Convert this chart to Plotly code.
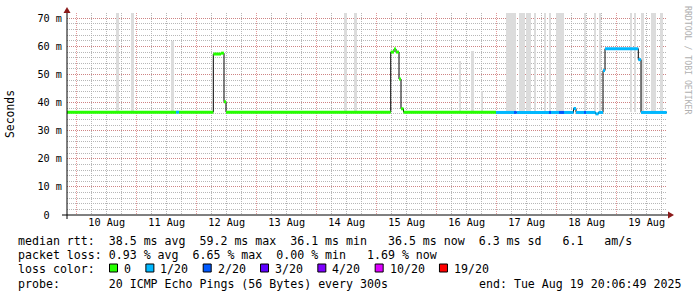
import plotly.graph_objects as go
import pandas as pd

# ---------------- data ----------------
# median RTT as step segments: boundaries, value (ms) and loss level per segment
seg_time = [
    "2025-08-09 20:07", "2025-08-11 15:43", "2025-08-11 16:55", "2025-08-12 06:38",
    "2025-08-12 09:43", "2025-08-12 10:55", "2025-08-12 11:43", "2025-08-15 05:36",
    "2025-08-15 06:55", "2025-08-15 07:43", "2025-08-15 08:55", "2025-08-15 09:43",
    "2025-08-15 10:43", "2025-08-16 23:43", "2025-08-17 06:55", "2025-08-17 08:00",
    "2025-08-17 20:55", "2025-08-17 21:43", "2025-08-18 00:55", "2025-08-18 02:55",
    "2025-08-18 06:43", "2025-08-18 07:43", "2025-08-18 10:55", "2025-08-18 11:43",
    "2025-08-18 15:31", "2025-08-18 16:43", "2025-08-18 18:31", "2025-08-18 19:19",
    "2025-08-19 08:38", "2025-08-19 09:43", "2025-08-19 20:00",
]
seg_median_ms = [
    36.6, 36.6, 36.6, 57.3, 57.6, 40.3, 36.6, 58.0, 59.1, 58.0,
    48.4, 37.8, 36.6, 36.5, 36.5, 36.5, 36.5, 36.5, 36.5, 36.5,
    37.9, 36.5, 36.5, 36.5, 36.0, 36.5, 51.4, 59.2, 55.3, 36.5,
]
seg_loss = [
    "0", "1/20", "0", "0", "0", "0", "0", "0", "0", "0",
    "0", "0", "0", "1/20", "2/20", "1/20", "2/20", "1/20", "2/20", "1/20",
    "1/20", "1/20", "2/20", "1/20", "1/20", "1/20", "1/20", "1/20", "1/20", "1/20",
]

# smoke (spread of the 20 pings): start, end, low and high (ms)
smoke_start = [
    "2025-08-10 15:43", "2025-08-10 21:43", "2025-08-11 13:43", "2025-08-14 10:55",
    "2025-08-14 14:55", "2025-08-16 08:55", "2025-08-16 13:43", "2025-08-16 17:43",
    "2025-08-17 03:43", "2025-08-17 08:55", "2025-08-17 11:43", "2025-08-17 14:55",
    "2025-08-17 18:55", "2025-08-17 20:55", "2025-08-17 23:43", "2025-08-18 10:55",
    "2025-08-18 14:55", "2025-08-18 16:55", "2025-08-19 05:19", "2025-08-19 06:55",
    "2025-08-19 09:43", "2025-08-19 13:43", "2025-08-19 17:19",
]
smoke_end = [
    "2025-08-10 16:55", "2025-08-10 22:55", "2025-08-11 14:55", "2025-08-14 12:07",
    "2025-08-14 16:07", "2025-08-16 09:43", "2025-08-16 14:55", "2025-08-16 18:31",
    "2025-08-17 07:43", "2025-08-17 11:19", "2025-08-17 13:43", "2025-08-17 15:43",
    "2025-08-17 19:43", "2025-08-17 21:43", "2025-08-18 02:55", "2025-08-18 11:43",
    "2025-08-18 15:43", "2025-08-18 17:43", "2025-08-19 06:07", "2025-08-19 07:43",
    "2025-08-19 10:55", "2025-08-19 15:43", "2025-08-19 18:31",
]
smoke_low_ms = [36.8] * 23
smoke_high_ms = [
    73, 73, 62.0, 73, 73, 54.9, 58.5, 44.2, 73, 73, 73, 73,
    73, 73, 73, 73, 73, 73, 73, 73, 73, 73, 73,
]

loss_levels = ["0", "1/20", "2/20", "3/20", "4/20", "10/20", "19/20"]
loss_colors = ["#26ff00", "#00b8ff", "#0059ff", "#5e00ff", "#7e00ff", "#dd00ff", "#ff0000"]

y_tick_vals = [0, 10, 20, 30, 40, 50, 60, 70]
y_tick_text = ["0\u00a0\u00a0", "10 m", "20 m", "30 m", "40 m", "50 m", "60 m", "70 m"]

stat_rtt = "median rtt:  38.5 ms avg  59.2 ms max  36.1 ms min   36.5 ms now  6.3 ms sd   6.1   am/s"
stat_loss = "packet loss: 0.93 % avg  6.65 % max  0.00 % min   1.69 % now"
probe_text = "probe:       20 ICMP Echo Pings (56 Bytes) every 300s"
end_text = "end: Tue Aug 19 20:06:49 2025"
x_start = "2025-08-09 20:06:49"
x_end = "2025-08-19 20:06:49"

# ---------------- geometry helpers ----------------
W, H = 697, 297
L, R, T, B = 67, 30, 13, 82
PW, PH = W - L - R, H - T - B
MONO = "DejaVu Sans Mono"


def px(xp):
    return (xp - L) / PW


def py(yp):
    return (H - B - yp) / PH


def nb(s):
    return s.replace(" ", "\u00a0")


fig = go.Figure()

# smoke bars
s0 = pd.to_datetime(pd.Series(smoke_start))
s1 = pd.to_datetime(pd.Series(smoke_end))
centers = s0 + (s1 - s0) / 2
widths = (s1 - s0).dt.total_seconds() * 1000
fig.add_trace(go.Bar(
    x=centers, y=[h - l for h, l in zip(smoke_high_ms, smoke_low_ms)], base=smoke_low_ms,
    width=list(widths), marker=dict(color="#dcdcdc", line=dict(width=0)),
    hoverinfo="skip", showlegend=False,
))

# black median step line
bx, by = [], []
for i, v in enumerate(seg_median_ms):
    bx += [seg_time[i], seg_time[i + 1]]
    by += [v, v]
fig.add_trace(go.Scatter(x=bx, y=by, mode="lines", line=dict(color="#000000", width=1),
                         hoverinfo="skip", showlegend=False))

# coloured median segments by loss level
for lvl, col in zip(loss_levels, loss_colors):
    cx, cy = [], []
    for i, v in enumerate(seg_median_ms):
        if seg_loss[i] == lvl:
            cx += [seg_time[i], seg_time[i + 1], None]
            cy += [v, v, None]
    if cx:
        fig.add_trace(go.Scatter(x=cx, y=cy, mode="lines", line=dict(color=col, width=3),
                                 hoverinfo="skip", showlegend=False))

GRID = "rgba(170,170,170,0.85)"
MGRID = "rgba(215,110,110,0.7)"

fig.update_layout(
    width=W, height=H, margin=dict(l=L, r=R, t=T, b=B),
    paper_bgcolor="white", plot_bgcolor="white", showlegend=False,
    bargap=0,
    font=dict(family=MONO, color="black", size=10.2),
    xaxis=dict(
        type="date", range=[x_start, x_end], tick0="2025-08-10", dtick=86400000,
        ticklabelmode="period", tickformat="%d %b", ticks="",
        showgrid=True, gridcolor=MGRID, griddash="1px,1px", gridwidth=1,
        minor=dict(dtick=21600000, showgrid=True, gridcolor=GRID, griddash="1px,1px", gridwidth=1),
        showline=False, zeroline=False, tickfont=dict(family=MONO, size=10.2),
        fixedrange=True,
    ),
    yaxis=dict(
        range=[0, 71.9], tickvals=y_tick_vals, ticktext=y_tick_text, ticks="",
        ticklabelstandoff=4,
        showgrid=True, gridcolor=MGRID, griddash="1px,1px", gridwidth=1,
        minor=dict(dtick=2, showgrid=True, gridcolor=GRID, griddash="1px,1px", gridwidth=1),
        showline=False, zeroline=False, tickfont=dict(family=MONO, size=10.2),
        fixedrange=True,
    ),
)

shapes = []
# axis lines
shapes.append(dict(type="line", xref="paper", yref="paper", x0=px(62), x1=px(669), y0=0, y1=0,
                   line=dict(color="black", width=1)))
shapes.append(dict(type="line", xref="paper", yref="paper", x0=0, x1=0, y0=py(219), y1=py(12),
                   line=dict(color="black", width=1)))
# arrows
shapes.append(dict(type="path", xref="paper", yref="paper",
                   path=f"M {px(668)} {py(211.5)} L {px(674)} {py(215)} L {px(668)} {py(218.5)} Z",
                   fillcolor="#8b1a1a", line=dict(width=0)))
shapes.append(dict(type="path", xref="paper", yref="paper",
                   path=f"M {px(63.5)} {py(13)} L {px(67)} {py(7)} L {px(70.5)} {py(13)} Z",
                   fillcolor="#8b1a1a", line=dict(width=0)))

annotations = []
LF = 11.6
annotations.append(dict(x=px(10), y=py(114), xref="paper", yref="paper", text="Seconds",
                        textangle=-90, showarrow=False, font=dict(family=MONO, size=11.4),
                        xanchor="center", yanchor="middle"))
annotations.append(dict(x=px(688), y=py(60), xref="paper", yref="paper",
                        text=nb("RRDTOOL / TOBI OETIKER"), textangle=90, showarrow=False,
                        font=dict(family=MONO, size=8.2, color="#b0b0b0"),
                        xanchor="center", yanchor="middle"))
for text, ypos in [(stat_rtt, 241), (stat_loss, 255), (probe_text, 283.5)]:
    annotations.append(dict(x=px(16), y=py(ypos), xref="paper", yref="paper", text=nb(text),
                            showarrow=False, font=dict(family=MONO, size=LF),
                            xanchor="left", yanchor="middle"))
annotations.append(dict(x=px(477), y=py(283.5), xref="paper", yref="paper", text=nb(end_text),
                        showarrow=False, font=dict(family=MONO, size=LF),
                        xanchor="left", yanchor="middle"))
annotations.append(dict(x=px(16), y=py(268.5), xref="paper", yref="paper", text=nb("loss color:"),
                        showarrow=False, font=dict(family=MONO, size=LF),
                        xanchor="left", yanchor="middle"))
# loss colour boxes
CW = 6.98
bx0 = 109.5
for lvl, col in zip(loss_levels, loss_colors):
    shapes.append(dict(type="rect", xref="paper", yref="paper",
                       x0=px(bx0), x1=px(bx0 + 8), y0=py(272), y1=py(264),
                       fillcolor=col, line=dict(color="black", width=1)))
    annotations.append(dict(x=px(bx0 + 12.4), y=py(268.5), xref="paper", yref="paper", text=lvl,
                            showarrow=False, font=dict(family=MONO, size=LF),
                            xanchor="left", yanchor="middle"))
    bx0 = bx0 + 12.4 + len(lvl) * CW + 17

fig.update_layout(shapes=shapes, annotations=annotations)
fig.write_html("out.html")
